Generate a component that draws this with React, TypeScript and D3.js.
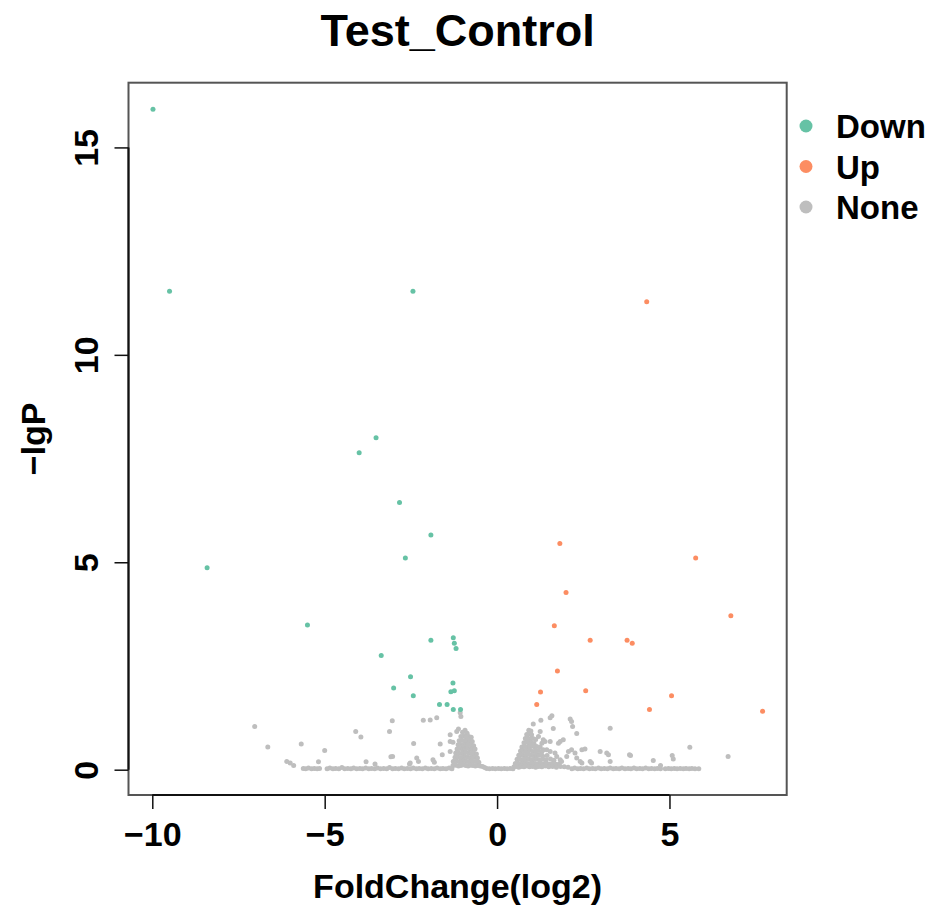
import React, { useEffect, useRef } from 'react';
import * as d3 from 'd3';

// [log2 fold change, -lgP]
const downPoints: [number, number][] = [
  [-9.98, 15.92], [-9.5, 11.53], [-2.44, 11.53], [-3.51, 8.0], [-4.0, 7.64],
  [-2.83, 6.44], [-1.92, 5.66], [-2.66, 5.1], [-8.41, 4.87], [-5.5, 3.49],
  [-1.92, 3.12], [-1.27, 3.18], [-1.24, 3.05], [-1.19, 2.92], [-3.36, 2.75],
  [-2.51, 2.24], [-1.28, 2.09], [-3.0, 1.97], [-1.34, 1.88], [-1.24, 1.9],
  [-2.43, 1.78], [-1.67, 1.57], [-1.45, 1.57], [-1.27, 1.45], [-1.06, 1.45],
];

const upPoints: [number, number][] = [
  [4.34, 11.28], [1.82, 5.45], [5.76, 5.1], [2.0, 4.27], [6.78, 3.71],
  [1.66, 3.47], [2.7, 3.12], [3.77, 3.12], [3.92, 3.05], [1.75, 2.38],
  [1.26, 1.87], [2.57, 1.9], [5.06, 1.78], [1.15, 1.57], [4.42, 1.45], [7.7, 1.41],
];

// scattered non-significant genes
const noneScatter: [number, number][] = [
  [-7.03, 1.04], [-6.65, 0.55], [-5.68, 0.62], [-5.0, 0.46], [-6.0, 0.16], [-6.1, 0.2],
  [-5.9, 0.1], [-5.18, 0.19], [-4.1, 0.92], [-3.95, 0.79], [-3.04, 1.18], [-3.12, 0.92],
  [-2.42, 0.63], [-3.08, 0.31], [-3.03, 0.32], [-3.8, 0.19], [-3.54, 0.14], [-2.54, 0.14],
  [-2.33, 0.28], [-2.28, 0.2], [-1.86, 0.24], [-1.82, 0.18], [-2.14, 1.19], [-1.94, 1.2],
  [-1.75, 1.25], [-1.07, 1.37], [-1.05, 1.28], [-1.65, 0.62], [-1.36, 0.84], [-1.36, 0.68],
  [-1.28, 0.66], [-1.17, 0.92], [-1.12, 0.98], [-1.59, 0.36], [-1.36, 0.44], [-1.27, 0.2],
  [-1.22, 0.16], [-2.52, 0.16],
  [1.59, 1.3], [1.54, 1.25], [1.05, 1.1], [1.27, 1.19], [2.12, 1.22], [2.16, 1.16],
  [2.19, 1.04], [1.63, 0.99], [0.96, 0.92], [2.31, 0.87], [3.28, 1.0], [1.25, 0.92],
  [1.2, 0.8], [0.86, 0.76], [1.34, 0.72], [1.39, 0.68], [1.54, 0.68], [1.83, 0.68],
  [1.78, 0.64], [1.92, 0.72], [1.05, 0.6], [1.15, 0.56], [1.34, 0.48], [1.44, 0.48],
  [1.54, 0.44], [1.25, 0.36], [1.68, 0.4], [1.73, 0.32], [2.07, 0.44], [2.16, 0.48],
  [2.26, 0.4], [2.46, 0.48], [2.55, 0.5], [2.02, 0.32], [2.31, 0.28], [2.99, 0.44],
  [3.18, 0.4], [3.23, 0.36], [3.28, 0.2], [2.41, 0.2], [2.46, 0.16], [2.7, 0.2],
  [2.74, 0.16], [1.83, 0.24], [1.87, 0.2], [3.84, 0.36], [3.87, 0.34], [4.53, 0.22],
  [5.08, 0.34], [5.11, 0.26], [5.59, 0.54], [6.7, 0.32], [4.74, 0.1],
];

// dense cloud left of zero
const leftHump: [number, number][] = [
  [-1.0, 0.9], [-0.93, 0.95], [-0.87, 0.88],
  [-1.05, 0.8], [-0.97, 0.81], [-0.9, 0.79], [-0.82, 0.8], [-0.75, 0.78],
  [-1.1, 0.7], [-1.02, 0.71], [-0.95, 0.69], [-0.88, 0.7], [-0.8, 0.71], [-0.72, 0.68],
  [-1.13, 0.6], [-1.05, 0.61], [-0.98, 0.59], [-0.9, 0.6], [-0.83, 0.62], [-0.76, 0.6], [-0.68, 0.58],
  [-1.16, 0.5], [-1.08, 0.51], [-1.0, 0.49], [-0.93, 0.5], [-0.86, 0.52], [-0.79, 0.5], [-0.72, 0.49], [-0.64, 0.5],
  [-1.2, 0.4], [-1.12, 0.41], [-1.04, 0.39], [-0.97, 0.4], [-0.9, 0.42], [-0.82, 0.4], [-0.75, 0.39], [-0.68, 0.41], [-0.6, 0.38],
  [-1.22, 0.3], [-1.14, 0.31], [-1.06, 0.29], [-0.99, 0.3], [-0.92, 0.32], [-0.85, 0.3], [-0.78, 0.29], [-0.71, 0.31], [-0.64, 0.3], [-0.57, 0.28],
  [-1.25, 0.2], [-1.17, 0.21], [-1.09, 0.19], [-1.02, 0.2], [-0.95, 0.22], [-0.88, 0.2], [-0.81, 0.19], [-0.74, 0.21], [-0.67, 0.2], [-0.6, 0.19], [-0.53, 0.18],
  [-1.28, 0.1], [-1.2, 0.11], [-1.12, 0.09], [-1.05, 0.1], [-0.98, 0.12], [-0.91, 0.1], [-0.84, 0.09], [-0.77, 0.11], [-0.7, 0.1], [-0.63, 0.09], [-0.56, 0.1], [-0.49, 0.09], [-0.42, 0.08], [-0.36, 0.05],
];

// dense cloud right of zero
const rightHump: [number, number][] = [
  [0.92, 0.95], [0.98, 0.93],
  [0.86, 0.85], [0.93, 0.86], [1.0, 0.84],
  [0.82, 0.75], [0.89, 0.76], [0.96, 0.74], [1.04, 0.75], [1.12, 0.73],
  [0.78, 0.65], [0.85, 0.66], [0.92, 0.64], [0.99, 0.65], [1.07, 0.63], [1.3, 0.64],
  [0.72, 0.55], [0.79, 0.56], [0.86, 0.54], [0.94, 0.55], [1.01, 0.57], [1.09, 0.54], [1.25, 0.55],
  [0.68, 0.45], [0.75, 0.46], [0.82, 0.44], [0.89, 0.45], [0.96, 0.47], [1.04, 0.44], [1.12, 0.45], [1.2, 0.46], [1.3, 0.43],
  [0.63, 0.35], [0.7, 0.36], [0.77, 0.34], [0.84, 0.35], [0.91, 0.37], [0.98, 0.35], [1.06, 0.34], [1.14, 0.36], [1.22, 0.35], [1.32, 0.33], [1.45, 0.34],
  [0.58, 0.25], [0.65, 0.26], [0.72, 0.24], [0.79, 0.25], [0.86, 0.27], [0.93, 0.25], [1.0, 0.24], [1.08, 0.26], [1.16, 0.25], [1.24, 0.23], [1.33, 0.25], [1.42, 0.24], [1.55, 0.26], [1.65, 0.23],
  [0.53, 0.15], [0.6, 0.16], [0.67, 0.14], [0.74, 0.15], [0.81, 0.17], [0.88, 0.15], [0.95, 0.14], [1.02, 0.16], [1.1, 0.15], [1.18, 0.13], [1.26, 0.15], [1.34, 0.14], [1.42, 0.16], [1.5, 0.14], [1.6, 0.15], [1.7, 0.13], [1.8, 0.14],
  [0.49, 0.07], [0.56, 0.08], [0.63, 0.06], [0.7, 0.08], [0.78, 0.07], [0.86, 0.09], [0.94, 0.07], [1.03, 0.08], [1.12, 0.06], [1.21, 0.08], [1.3, 0.07], [1.4, 0.09], [1.5, 0.07], [1.61, 0.08], [1.72, 0.06], [1.84, 0.08], [1.95, 0.07], [2.06, 0.06],
];

// genes with p close to 1 (the strip along zero)
const baseline: [number, number][] = [
  [-5.62, 0.03], [-5.55, 0.02], [-5.47, 0.04], [-5.38, 0.02], [-5.3, 0.03], [-5.22, 0.02], [-5.15, 0.03],
  [-4.93, 0.02], [-4.85, 0.04], [-4.76, 0.02], [-4.68, 0.03], [-4.59, 0.02], [-4.5, 0.05], [-4.42, 0.02],
  [-4.33, 0.03], [-4.24, 0.02], [-4.16, 0.04], [-4.07, 0.02], [-3.98, 0.03], [-3.9, 0.02], [-3.81, 0.04],
  [-3.72, 0.02], [-3.64, 0.03], [-3.55, 0.02], [-3.47, 0.04], [-3.38, 0.02], [-3.29, 0.03], [-3.2, 0.02],
  [-3.12, 0.05], [-3.03, 0.02], [-2.95, 0.03], [-2.86, 0.02], [-2.77, 0.04], [-2.69, 0.02], [-2.6, 0.03],
  [-2.51, 0.02], [-2.43, 0.04], [-2.34, 0.02], [-2.26, 0.03], [-2.17, 0.02], [-2.08, 0.04], [-2.0, 0.02],
  [-1.91, 0.03], [-1.82, 0.02], [-1.74, 0.04], [-1.65, 0.02], [-1.57, 0.03], [-1.48, 0.02], [-1.39, 0.04],
  [-1.31, 0.02], [-0.3, 0.03], [-0.22, 0.02], [-0.13, 0.03], [-0.05, 0.02], [0.04, 0.03], [0.12, 0.02],
  [0.21, 0.03], [0.29, 0.02], [0.38, 0.03], [0.46, 0.02], [2.17, 0.02], [2.25, 0.04], [2.34, 0.02],
  [2.42, 0.03], [2.51, 0.02], [2.6, 0.04], [2.68, 0.02], [2.77, 0.03], [2.85, 0.02], [2.94, 0.04],
  [3.02, 0.02], [3.11, 0.03], [3.2, 0.02], [3.28, 0.04], [3.37, 0.02], [3.45, 0.03], [3.54, 0.02],
  [3.62, 0.04], [3.71, 0.02], [3.8, 0.03], [3.88, 0.02], [3.97, 0.04], [4.05, 0.02], [4.14, 0.03],
  [4.22, 0.02], [4.31, 0.04], [4.4, 0.02], [4.48, 0.03], [4.57, 0.02], [4.65, 0.03], [4.74, 0.02],
  [4.88, 0.02], [4.97, 0.03], [5.05, 0.02], [5.14, 0.03], [5.22, 0.02], [5.31, 0.03], [5.4, 0.02],
  [5.48, 0.03], [5.57, 0.02], [5.65, 0.03], [5.74, 0.02], [5.85, 0.02],
];

const xTicks = [-10, -5, 0, 5];
const yTicks = [0, 5, 10, 15];
const groups = ['Down', 'Up', 'None'];
const groupColors = ['#66C2A5', '#FC8D62', '#BEBEBE'];

const FONT = '"Liberation Sans", Arial, Helvetica, sans-serif';

const App = () => {
  const svgRef = useRef<SVGSVGElement | null>(null);

  useEffect(() => {
    document.body.style.margin = '0';
    const W = 938;
    const H = 909;
    const left = 128.5, right = 786.7, top = 82.7, bottom = 795;

    const svg = d3.select(svgRef.current).attr('width', W).attr('height', H);
    svg.selectAll('*').remove();
    svg.append('rect').attr('width', W).attr('height', H).attr('fill', '#fff');

    const x = d3.scaleLinear().domain([-10.69, 8.4]).range([left, right]);
    const y = d3.scaleLinear().domain([-0.61, 16.56]).range([bottom, top]);
    const color = d3.scaleOrdinal<string, string>().domain(groups).range(groupColors);

    const plot = svg.append('g');
    const drawPts = (pts: [number, number][], g: string) => {
      plot.append('g').selectAll('circle')
        .data(pts)
        .enter().append('circle')
        .attr('cx', d => x(d[0]))
        .attr('cy', d => y(d[1]))
        .attr('r', 2.5)
        .attr('fill', color(g));
    };
    drawPts(baseline, 'None');
    drawPts(leftHump, 'None');
    drawPts(rightHump, 'None');
    drawPts(noneScatter, 'None');
    drawPts(downPoints, 'Down');
    drawPts(upPoints, 'Up');

    // box
    svg.append('rect')
      .attr('x', left).attr('y', top)
      .attr('width', right - left).attr('height', bottom - top)
      .attr('fill', 'none').attr('stroke', '#555').attr('stroke-width', 2);

    // x axis
    const xAxis = svg.append('g')
      .attr('transform', `translate(0,${bottom})`)
      .call(d3.axisBottom(x).tickValues(xTicks).tickSize(14).tickSizeOuter(0)
        .tickFormat(d => (+d < 0 ? '\u2212' + Math.abs(+d) : String(d))));
    xAxis.select('.domain').remove();
    xAxis.append('line')
      .attr('x1', x(xTicks[0])).attr('x2', x(xTicks[xTicks.length - 1]))
      .attr('stroke', '#111').attr('stroke-width', 2);
    xAxis.selectAll('.tick line').attr('stroke', '#111').attr('stroke-width', 1.5);
    xAxis.selectAll('.tick text')
      .attr('y', 51).attr('dy', null)
      .attr('fill', '#000')
      .style('font-family', FONT).style('font-weight', 'bold').style('font-size', '34px');

    // y axis
    const yAxis = svg.append('g')
      .attr('transform', `translate(${left},0)`)
      .call(d3.axisLeft(y).tickValues(yTicks).tickSize(14).tickSizeOuter(0));
    yAxis.select('.domain').remove();
    yAxis.selectAll('.tick text').remove();
    yAxis.append('line')
      .attr('y1', y(yTicks[0])).attr('y2', y(yTicks[yTicks.length - 1]))
      .attr('stroke', '#111').attr('stroke-width', 2);
    yAxis.selectAll('.tick line').attr('stroke', '#111').attr('stroke-width', 1.5);
    yAxis.selectAll('.tick')
      .append('text')
      .attr('transform', 'translate(-31,0) rotate(-90)')
      .attr('text-anchor', 'middle')
      .attr('fill', '#000')
      .style('font-family', FONT).style('font-weight', 'bold').style('font-size', '34px')
      .text(d => String(d));

    // titles
    svg.append('text')
      .attr('x', (left + right) / 2).attr('y', 46)
      .attr('text-anchor', 'middle')
      .style('font-family', FONT).style('font-weight', 'bold').style('font-size', '45px')
      .text('Test_Control');
    svg.append('text')
      .attr('x', (left + right) / 2).attr('y', 898)
      .attr('text-anchor', 'middle')
      .style('font-family', FONT).style('font-weight', 'bold').style('font-size', '34px')
      .text('FoldChange(log2)');
    svg.append('text')
      .attr('transform', `translate(45,${(top + bottom) / 2}) rotate(-90)`)
      .attr('text-anchor', 'middle')
      .style('font-family', FONT).style('font-weight', 'bold').style('font-size', '34px')
      .text('\u2212lgP');

    // legend
    const legend = svg.append('g').attr('transform', 'translate(806,126)');
    const item = legend.selectAll('g')
      .data(groups)
      .enter().append('g')
      .attr('transform', (d, i) => `translate(0,${i * 40.5})`);
    item.append('circle').attr('r', 6.5).attr('fill', d => color(d));
    item.append('text')
      .attr('x', 30).attr('y', 12)
      .style('font-family', FONT).style('font-weight', 'bold').style('font-size', '33px')
      .text(d => d);
  }, []);

  return (
    <div style={{ position: 'absolute', left: 0, top: 0 }}>
      <svg ref={svgRef} style={{ display: 'block' }}></svg>
    </div>
  );
};

export default App;
